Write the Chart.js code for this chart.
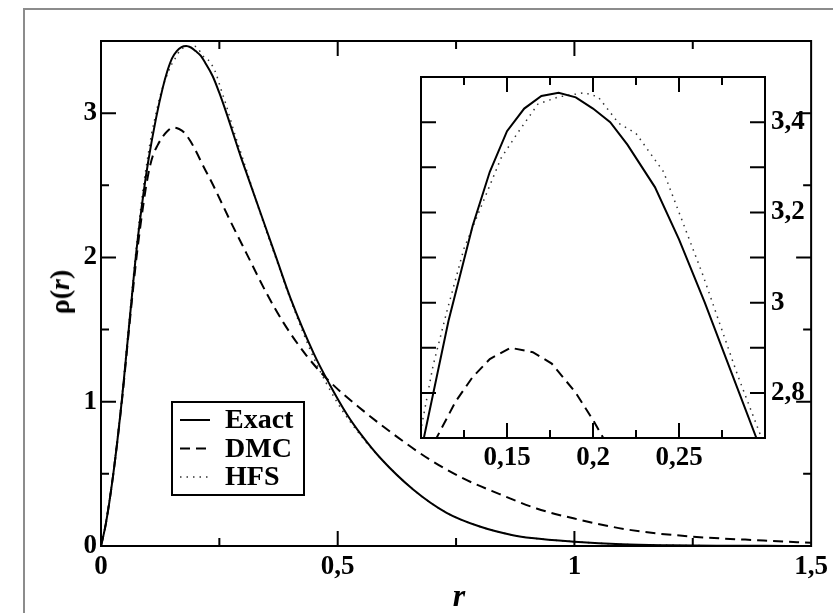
<!DOCTYPE html>
<html>
<head>
<meta charset="utf-8">
<script src="https://cdn.jsdelivr.net/npm/chart.js@4.4.1/dist/chart.umd.min.js"></script>
<style>
  body { margin: 0; background: #fff; width: 833px; height: 613px; overflow: hidden; position: relative; }
  #frame { position: absolute; left: 23px; top: 8px; right: 0; bottom: 0; border-left: 2px solid #8c8c8c; border-top: 2px solid #8c8c8c; }
  #main { position: absolute; left: 0; top: 0; }
  #inset { position: absolute; left: 397px; top: 53px; }
  .title { position: absolute; font-family: "Liberation Serif", serif; font-weight: bold; color: #000; white-space: nowrap; }
  #ytitle { left: 60px; top: 292px; font-size: 28px; transform: translate(-50%, -50%) rotate(-90deg); }
  #xtitle { left: 459px; top: 595px; font-size: 32px; font-style: italic; transform: translate(-50%, -50%); }
</style>
</head>
<body>
<div id="frame"></div>
<canvas id="main" width="833" height="613"></canvas>
<canvas id="inset" width="424" height="432"></canvas>
<div class="title" id="ytitle">ρ(<i>r</i>)</div>
<div class="title" id="xtitle">r</div>
<script>
// radial density
const seriesNames = ['Exact', 'DMC', 'HFS']

const rExact = [0, 0.01, 0.026, 0.044, 0.06, 0.075, 0.09, 0.1, 0.116, 0.13, 0.14, 0.15, 0.16, 0.17, 0.18, 0.19, 0.2, 0.21, 0.22, 0.236, 0.25, 0.265, 0.28, 0.295, 0.31, 0.34, 0.37, 0.4, 0.45, 0.483, 0.52, 0.55, 0.59, 0.66, 0.73, 0.8, 0.87, 0.91, 1.0, 1.1, 1.2, 1.3, 1.4, 1.5]
const rhoExact = [0, 0.15, 0.5, 1.01, 1.55, 2.05, 2.45, 2.67, 2.96, 3.17, 3.29, 3.38, 3.43, 3.458, 3.465, 3.455, 3.43, 3.4, 3.35, 3.256, 3.14, 3.0, 2.85, 2.7, 2.56, 2.28, 2.0, 1.72, 1.33, 1.12, 0.91, 0.77, 0.61, 0.39, 0.23, 0.135, 0.075, 0.055, 0.03, 0.012, 0.005, 0.002, 0.001, 0]

const rDMC = [0, 0.01, 0.026, 0.044, 0.06, 0.075, 0.09, 0.1, 0.109, 0.12, 0.13, 0.14, 0.152, 0.165, 0.176, 0.19, 0.2, 0.215, 0.237, 0.272, 0.307, 0.35, 0.385, 0.434, 0.483, 0.553, 0.624, 0.694, 0.764, 0.842, 0.92, 1.0, 1.12, 1.25, 1.4, 1.5]
const rhoDMC = [0, 0.15, 0.5, 1.0, 1.53, 2.0, 2.38, 2.58, 2.7, 2.78, 2.835, 2.875, 2.9, 2.89, 2.865, 2.8, 2.74, 2.64, 2.5, 2.26, 2.03, 1.75, 1.55, 1.32, 1.14, 0.94, 0.76, 0.6, 0.47, 0.36, 0.26, 0.19, 0.11, 0.065, 0.038, 0.022]

const rHFS = [0, 0.01, 0.026, 0.044, 0.06, 0.075, 0.09, 0.1, 0.107, 0.115, 0.125, 0.1465, 0.156, 0.168, 0.18, 0.195, 0.203, 0.215, 0.225, 0.241, 0.254, 0.264, 0.284, 0.3, 0.34, 0.37, 0.4, 0.45, 0.5, 0.55, 0.59, 0.66, 0.73, 0.8, 0.87, 0.91, 1.0, 1.1, 1.2, 1.3, 1.4, 1.5]
const rhoHFS = [0, 0.16, 0.51, 1.03, 1.58, 2.08, 2.5, 2.72, 2.86, 2.98, 3.12, 3.32, 3.375, 3.44, 3.456, 3.465, 3.456, 3.397, 3.375, 3.29, 3.16, 3.06, 2.84, 2.68, 2.27, 1.99, 1.71, 1.3, 0.99, 0.76, 0.61, 0.39, 0.23, 0.135, 0.075, 0.055, 0.03, 0.012, 0.005, 0.002, 0.001, 0]

const mainXLabels = [0, 0.5, 1, 1.5]
const mainYLabels = [0, 1, 2, 3]
const insetXLabels = [0.15, 0.2, 0.25]
const insetYLabels = [2.8, 3, 3.2, 3.4]

var pairs = (xs, ys) => xs.map((x, i) => ({ x: x, y: ys[i] }))
var comma = (v) => String(v).replace('.', ',')
var pick = (list, digits) => (value) => {
    var v = Number(value.toFixed(digits))
    return list.includes(v) ? comma(v) : ''
}

var tickFont = { family: 'Liberation Serif', size: 27, weight: 'bold' }

var makeDatasets = (smooth) => [
    { label: seriesNames[0], data: pairs(rExact, rhoExact), borderColor: '#000', borderWidth: 2, borderDash: [] },
    { label: seriesNames[1], data: pairs(rDMC, rhoDMC), borderColor: '#000', borderWidth: 2, borderDash: [10, 6] },
    { label: seriesNames[2], data: pairs(rHFS, rhoHFS), borderColor: '#333', borderWidth: 1.5, borderDash: [1.5, 5] }
].map(ds => Object.assign(ds, {
    pointRadius: 0,
    fill: false,
    cubicInterpolationMode: smooth ? 'monotone' : 'default',
    tension: 0,
    clip: smooth ? 2 : 0
}))

// frame plus inward ticks on all four sides
const frameTicks = {
    id: 'frameTicks',
    afterDatasetsDraw: (chart, args, opts) => {
        const { ctx, chartArea: a } = chart
        const marks = (scale, step, len, horiz) => {
            var n = Math.round((scale.max - scale.min) / step)
            for (let i = 1; i < n; i++) {
                var p = scale.getPixelForValue(scale.min + i * step)
                if (horiz) {
                    ctx.moveTo(p, a.bottom); ctx.lineTo(p, a.bottom - len)
                    ctx.moveTo(p, a.top); ctx.lineTo(p, a.top + len)
                } else {
                    ctx.moveTo(a.left, p); ctx.lineTo(a.left + len, p)
                    ctx.moveTo(a.right, p); ctx.lineTo(a.right - len, p)
                }
            }
        }
        ctx.save()
        ctx.strokeStyle = '#000'
        ctx.lineWidth = 2
        ctx.beginPath()
        marks(chart.scales.x, opts.xMinor, opts.minorLen, true)
        marks(chart.scales.x, opts.xMajor, opts.majorLen, true)
        marks(chart.scales.y, opts.yMinor, opts.yMinorLen, false)
        marks(chart.scales.y, opts.yMajor, opts.majorLen, false)
        ctx.stroke()
        ctx.strokeRect(a.left, a.top, a.right - a.left, a.bottom - a.top)
        ctx.restore()
    }
}

const boxLegend = {
    id: 'boxLegend',
    afterDraw: (chart, args, opts) => {
        const ctx = chart.ctx
        ctx.save()
        ctx.strokeStyle = '#000'
        ctx.lineWidth = 2
        ctx.strokeRect(opts.left, opts.top, opts.width, opts.height)
        ctx.font = 'bold 28px "Liberation Serif"'
        ctx.textBaseline = 'middle'
        ctx.fillStyle = '#000'
        chart.data.datasets.forEach((ds, i) => {
            var yy = opts.top + opts.firstRow + i * opts.rowGap
            ctx.beginPath()
            ctx.setLineDash(ds.borderDash)
            ctx.lineWidth = ds.borderWidth
            ctx.strokeStyle = ds.borderColor
            ctx.moveTo(opts.left + 8, yy)
            ctx.lineTo(opts.left + 38, yy)
            ctx.stroke()
            ctx.setLineDash([])
            ctx.fillText(ds.label, opts.left + 53, yy + 1)
        })
        ctx.restore()
    }
}

var axisOpts = (min, max, step, extra, tickExtra) => Object.assign({
    type: 'linear', min: min, max: max,
    grid: { display: false, drawTicks: false }, border: { display: false },
    ticks: Object.assign({ stepSize: step, autoSkip: false, maxRotation: 0, color: '#000', font: tickFont }, tickExtra)
}, extra)

new Chart(document.getElementById('main'), {
    type: 'line',
    data: { datasets: makeDatasets(true) },
    options: {
        responsive: false,
        animation: false,
        events: [],
        layout: { padding: { left: 0, top: 41, right: 21, bottom: 0 } },
        scales: {
            x: axisOpts(0, 1.5, 0.5, { afterFit: (s) => { s.height = 67 } }, { padding: 5, callback: pick(mainXLabels, 2) }),
            y: axisOpts(0, 3.5, 1, { afterFit: (s) => { s.width = 101 } }, { padding: 4, callback: pick(mainYLabels, 2) })
        },
        plugins: {
            legend: { display: false },
            tooltip: { enabled: false },
            frameTicks: { xMajor: 0.5, xMinor: 0.25, yMajor: 1, yMinor: 0.5, majorLen: 15, minorLen: 8, yMinorLen: 8 },
            boxLegend: { left: 172, top: 402, width: 132, height: 93, firstRow: 18, rowGap: 28.5 }
        }
    },
    plugins: [frameTicks, boxLegend]
})

new Chart(document.getElementById('inset'), {
    type: 'line',
    data: { datasets: makeDatasets(false) },
    options: {
        responsive: false,
        animation: false,
        events: [],
        layout: { padding: { left: 24, top: 24, right: 0, bottom: 0 } },
        scales: {
            x: axisOpts(0.1, 0.3, 0.05, { afterFit: (s) => { s.height = 47 } }, { padding: 4, callback: pick(insetXLabels, 3) }),
            y: axisOpts(2.7, 3.5, 0.1, { position: 'right', afterFit: (s) => { s.width = 56 } }, { padding: 6, callback: pick(insetYLabels, 2) })
        },
        plugins: {
            legend: { display: false },
            tooltip: { enabled: false },
            frameTicks: { xMajor: 0.05, xMinor: 0.025, yMajor: 0.1, yMinor: 0.1, majorLen: 15, minorLen: 8, yMinorLen: 15 }
        }
    },
    plugins: [frameTicks]
})
</script>
</body>
</html>
